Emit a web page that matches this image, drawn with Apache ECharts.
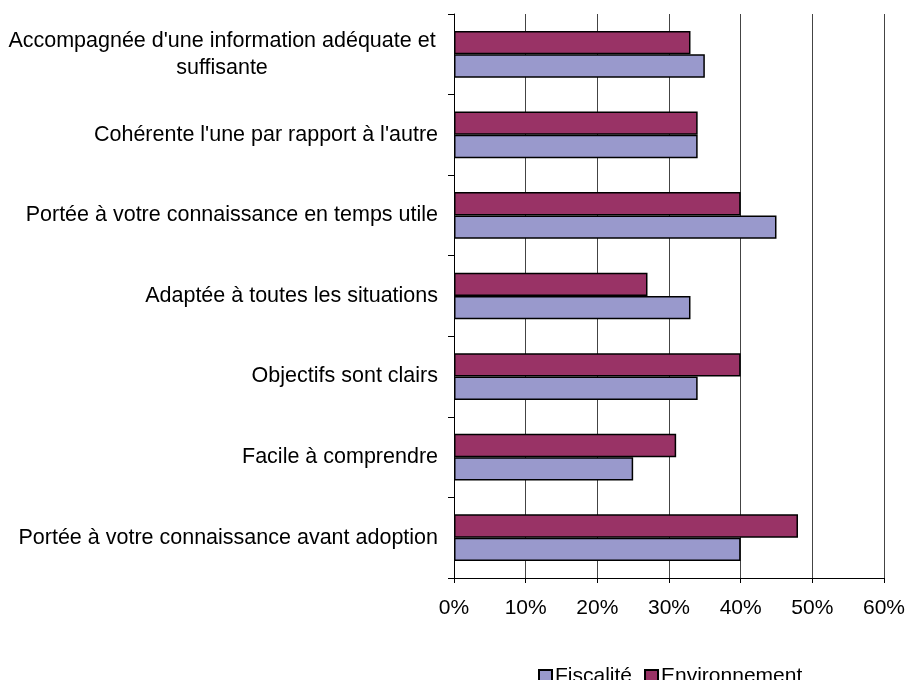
<!DOCTYPE html>
<html>
<head>
    <meta charset="utf-8">
    <title>Information</title>
    <script src="https://cdn.jsdelivr.net/npm/echarts@6/dist/echarts.min.js"></script>
</head>
<body style="margin:0">
    <div id="chart_" style="width: 908px;height:680px;"></div>
    <script type="text/javascript">
        // categories, de bas en haut
        var categories = [
            'Portée à votre connaissance avant adoption',
            'Facile à comprendre',
            'Objectifs sont clairs',
            'Adaptée à toutes les situations',
            'Portée à votre connaissance en temps utile',
            "Cohérente l'une par rapport à l'autre",
            "Accompagnée d'une information adéquate et\nsuffisante"
        ];
        var fiscalite = [40, 25, 34, 33, 45, 34, 35];
        var environnement = [48, 31, 40, 27, 40, 34, 33];
        var xTicks = [0, 10, 20, 30, 40, 50, 60];

        var myChart = echarts.init(document.getElementById('chart_'));
        var font = 'Liberation Sans, Arial, sans-serif';
        var option = {
            animation: false,
            textStyle: { fontFamily: font },
            grid: { left: 454, right: 23, top: 14, bottom: 102 },
            legend: {
                data: ['Fiscalité', 'Environnement'],
                top: 661,
                left: 533,
                icon: 'rect',
                itemWidth: 13,
                itemHeight: 13,
                itemGap: 12,
                textStyle: { fontSize: 21, color: '#000', padding: [0, 0, 0, -2] }
            },
            xAxis: {
                type: 'value',
                min: xTicks[0],
                max: xTicks[xTicks.length - 1],
                interval: 10,
                axisLine: { show: true, lineStyle: { color: '#000' } },
                axisTick: { show: true, length: 5, lineStyle: { color: '#000' } },
                axisLabel: {
                    formatter: '{value}%',
                    fontSize: 21,
                    color: '#000',
                    margin: 20
                },
                splitLine: { show: true, lineStyle: { color: '#444' } }
            },
            yAxis: {
                type: 'category',
                data: categories,
                axisLine: { show: true, lineStyle: { color: '#000' } },
                axisTick: { show: true, length: 6, lineStyle: { color: '#000' } },
                axisLabel: {
                    fontSize: 21.5,
                    color: '#000',
                    margin: 16,
                    formatter: function (v) {
                        if (v.indexOf('\n') >= 0) return '{c|' + v + '}';
                        return v;
                    },
                    rich: {
                        c: { width: 432, align: 'center', fontSize: 21.5, lineHeight: 27, color: '#000' }
                    }
                }
            },
            series: [{
                name: 'Environnement',
                type: 'bar',
                data: environnement,
                barGap: '0%',
                barCategoryGap: '42%',
                itemStyle: { color: '#993366', borderColor: '#000', borderWidth: 1.5 }
            }, {
                name: 'Fiscalité',
                type: 'bar',
                data: fiscalite,
                barGap: '0%',
                barCategoryGap: '42%',
                itemStyle: { color: '#9999CC', borderColor: '#000', borderWidth: 1.5 }
            }]
        };
        myChart.setOption(option);
    </script>
</body>
</html>
